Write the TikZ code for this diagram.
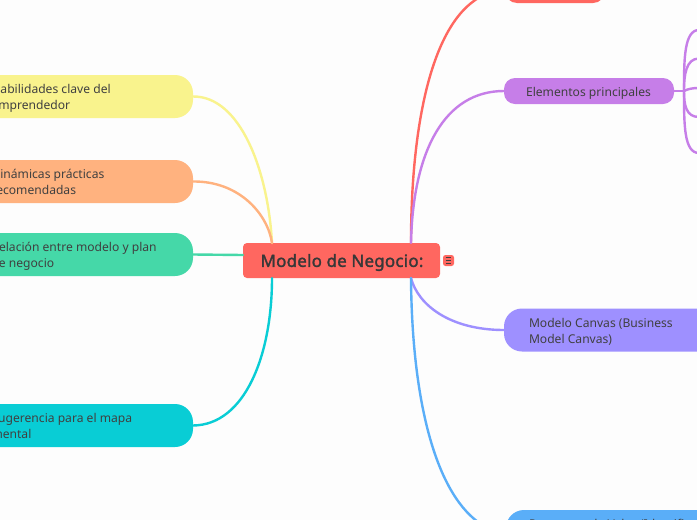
\documentclass[tikz,border=0pt]{standalone}
\usepackage{fontspec}
\setmainfont{Noto Sans}
\newfontfamily\rootfont[FakeBold=1.8,LetterSpace=1.5]{Noto Sans}
\definecolor{bgc}{HTML}{FDFDFD}
\definecolor{cred}{HTML}{FF6760}
\definecolor{cpur}{HTML}{C67EE8}
\definecolor{cvio}{HTML}{9E90FF}
\definecolor{cblu}{HTML}{5AAEF8}
\definecolor{cyel}{HTML}{F9F38D}
\definecolor{cora}{HTML}{FFB27F}
\definecolor{cgre}{HTML}{45D8A8}
\definecolor{ccya}{HTML}{09CDD5}
\tikzset{
  x=1pt,y=-1pt,
  branch/.style={draw=none,anchor=west,inner sep=0pt,outer sep=0pt},
  wide/.style={branch,rounded corners=18pt,minimum height=43pt},
  words/.style={anchor=north west,align=left,inner sep=0pt,outer sep=0pt,
    font=\fontsize{12.1}{16}\selectfont,text=black!75},
  link/.style={line width=2.4pt,line cap=round}
}
\begin{document}
\begin{tikzpicture}
\useasboundingbox (0,0) rectangle (697,520);
\clip (0,0) rectangle (697,520);
\fill[bgc] (0,0) rectangle (697,520);
% boxes
\node[branch,fill=cred,rounded corners=4pt,minimum width=197pt,minimum height=35pt] (root) at (243,260.5) {};
\node[anchor=center,inner sep=0pt,font=\rootfont\fontsize{16.9}{20}\selectfont,text=black!78] (roott) at (342,262.5) {Modelo de Negocio:};
\node[branch,fill=cred,rounded corners=2.5pt,minimum width=11pt,minimum height=11pt] (tog) at (443,260.5) {};
\draw[black!75,line width=0.9pt] (445.5,257.8) -- (450.5,257.8) (445.5,260.5) -- (450.5,260.5) (445.5,263.2) -- (450.5,263.2);
\node[branch,fill=cred,rounded corners=12pt,minimum width=100pt,minimum height=30pt] (top) at (505,-12) {};
\node[branch,fill=cpur,rounded corners=11pt,minimum width=170pt,minimum height=26pt] (elem) at (504,91) {};
\node[wide,fill=cvio,minimum width=250pt] (canvas) at (504,330) {};
\node[wide,fill=cblu,minimum width=250pt] (prop) at (506,531.5) {};
\node[wide,fill=cyel,minimum width=226pt] (hab) at (-33,96.5) {};
\node[wide,fill=cora,minimum width=226pt] (din) at (-33,181.5) {};
\node[wide,fill=cgre,minimum width=226pt] (rel) at (-33,254.5) {};
\node[wide,fill=ccya,minimum width=226pt] (sug) at (-33,425.5) {};
% texts
\node[words,anchor=center] (elemt) at (588.5,93.5) {Elementos principales};
\node[words] (canvast) at (529,318) {Modelo Canvas (Business\\Model Canvas)};
\node[words] (propt) at (529,519) {Propuesta de Valor (Identificación del};
\node[words] (habt) at (-8.5,84) {Habilidades clave del\\emprendedor};
\node[words] (dint) at (-8.5,169) {Dinámicas prácticas\\recomendadas};
\node[words] (relt) at (-8.5,242) {Relación entre modelo y plan\\de negocio};
\node[words] (sugt) at (-8.5,413) {Sugerencia para el mapa\\mental};
% anchors on the root
\coordinate (rtl) at (272,243);
\coordinate (rbl) at (272,278);
\coordinate (rtr) at (411,243);
\coordinate (rbr) at (411,278);
\coordinate (fan) at (684,91);
\coordinate (redend) at (480,-3);
\coordinate (s1) at (699,30);
\coordinate (s2) at (699,58.5);
\coordinate (s3) at (699,88);
\coordinate (s4) at (699,117);
\coordinate (s5) at (699,153);
\coordinate (blueend) at (478,522);
% connectors
\draw[link,cyel] (hab.east) .. controls (240,96) and (268,170) .. (rtl);
\draw[link,cora] (din.east) .. controls (240,181) and (268,215) .. (rtl);
\draw[link,cgre] (rel.east) -- (root.west |- 0,255);
\draw[link,ccya] (sug.east) .. controls (245,425) and (272,355) .. (rbl);
\draw[link,cred] (rtr) .. controls (411,130) and (430,25) .. (redend);
\draw[link,cpur] (rtr) .. controls (413,150) and (445,91) .. (elem.west);
\draw[link,cvio] (rbr) .. controls (418,305) and (450,330) .. (canvas.west);
\draw[link,cblu] (rbr) .. controls (412,400) and (435,490) .. (blueend);
\draw[link,cpur] (elem.east) -- (fan);
\draw[link,cpur] (fan) .. controls (684,60) and (684,30) .. (s1);
\draw[link,cpur] (fan) .. controls (684,75) and (686,58.5) .. (s2);
\draw[link,cpur] (fan) .. controls (688,89) and (692,88) .. (s3);
\draw[link,cpur] (fan) .. controls (684,105) and (686,117) .. (s4);
\draw[link,cpur] (fan) .. controls (684,125) and (684,153) .. (s5);
\end{tikzpicture}
\end{document}
